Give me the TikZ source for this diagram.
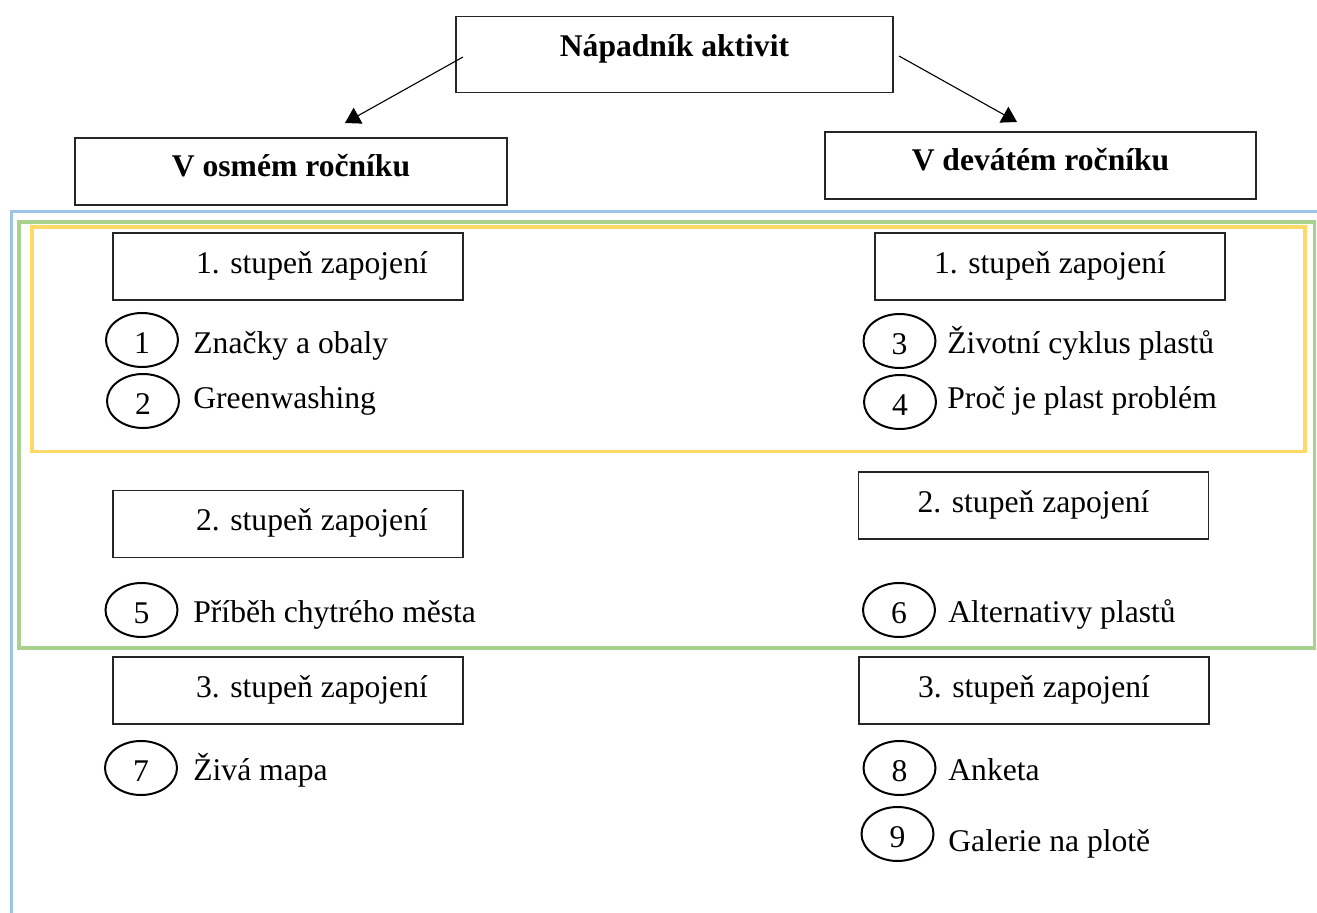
\documentclass[tikz,border=0pt]{standalone}
\usepackage{fontspec}
\setmainfont{Liberation Serif}
\usetikzlibrary{arrows.meta,shapes.geometric}
\definecolor{fblue}{HTML}{9DC3E6}
\definecolor{fgreen}{HTML}{A9D18E}
\definecolor{fyellow}{HTML}{FFD966}
\newcommand{\dg}[1]{\vphantom{1}\raisebox{-1.5pt}[0pt][0pt]{#1}}
\begin{document}
\begin{tikzpicture}[x=0.5pt,y=-0.5pt,
  font=\fontsize{15.8}{19}\selectfont,
  box/.style={draw=black!85, line width=0.7pt, fill=white, inner sep=0pt, minimum height=33.5pt},
  numell/.style={draw=black, line width=1pt, ellipse, inner sep=0pt, minimum width=36pt, minimum height=27pt},
  txt/.style={anchor=base, inner sep=0pt},
  item/.style={anchor=base west, inner sep=0pt},
  frame/.style={line width=1.8pt},
  conn/.style={line width=0.55pt, -{Triangle[length=7.5pt,width=9pt]}}
]
\useasboundingbox (0,0) rectangle (1317,913);
\fill[white] (0,0) rectangle (1317,913);

% coloured frames
\draw[frame, fblue] (11.5,913) -- (11.5,211.5) -- (1317,211.5);
\draw[frame, fgreen] (19,222) rectangle (1314.5,648);
\draw[frame, fyellow] (32,227) rectangle (1305,451.5);

% top boxes
\node[box, minimum width=218.5pt, minimum height=37.75pt] (title) at (674.5,54.5) {};
\node[txt, font=\fontsize{15.8}{19}\selectfont\bfseries] (titletxt) at (674.5,57) {Nápadník aktivit};
\node[box, minimum width=216pt] (g8) at (291,171.5) {};
\node[txt, font=\fontsize{15.8}{19}\selectfont\bfseries] (g8txt) at (291,177) {V osmém ročníku};
\node[box, minimum width=215.5pt] (g9) at (1040.5,165.5) {};
\node[txt, font=\fontsize{15.8}{19}\selectfont\bfseries] (g9txt) at (1040.5,171) {V devátém ročníku};

% arrows
\coordinate (aLs) at (463,57);
\coordinate (aLe) at (345,123);
\coordinate (aRs) at (899,56);
\coordinate (aRe) at (1017,122);
\draw[conn] (aLs) -- (aLe);
\draw[conn] (aRs) -- (aRe);

% level boxes
\node[box, minimum width=175pt] (s1L) at (288,266.5) {};
\node[txt] (s1Lt) at (312,274) {1. stupeň zapojení};
\node[box, minimum width=175pt] (s1R) at (1050,266.5) {};
\node[txt] (s1Rt) at (1050,274) {1. stupeň zapojení};
\node[box, minimum width=175pt] (s2L) at (288,524) {};
\node[txt] (s2Lt) at (312,531) {2. stupeň zapojení};
\node[box, minimum width=175pt] (s2R) at (1033.5,505.5) {};
\node[txt] (s2Rt) at (1033.5,513) {2. stupeň zapojení};
\node[box, minimum width=175pt] (s3L) at (288,690.5) {};
\node[txt] (s3Lt) at (312,698) {3. stupeň zapojení};
\node[box, minimum width=175pt] (s3R) at (1034,690.5) {};
\node[txt] (s3Rt) at (1034,698) {3. stupeň zapojení};

% numbered items
\node[numell] (e1) at (142,340) {\dg{1}};
\node[item] (i1) at (193,354) {Značky a obaly};
\node[numell] (e2) at (143,401) {\dg{2}};
\node[item] (i2) at (193,409) {Greenwashing};
\node[numell] (e3) at (899.5,341) {\dg{3}};
\node[item] (i3) at (947,354) {Životní cyklus plastů};
\node[numell] (e4) at (900,402) {\dg{4}};
\node[item] (i4) at (947,409) {Proč je plast problém};
\node[numell] (e5) at (141.5,610) {\dg{5}};
\node[item] (i5) at (193,623) {Příběh chytrého města};
\node[numell] (e6) at (899,610) {\dg{6}};
\node[item] (i6) at (948,623) {Alternativy plastů};
\node[numell] (e7) at (141,768) {\dg{7}};
\node[item] (i7) at (193,781) {Živá mapa};
\node[numell] (e8) at (899.5,768) {\dg{8}};
\node[item] (i8) at (948,781) {Anketa};
\node[numell] (e9) at (897.5,834) {\dg{9}};
\node[item] (i9) at (948,851) {Galerie na plotě};
\end{tikzpicture}
\end{document}
